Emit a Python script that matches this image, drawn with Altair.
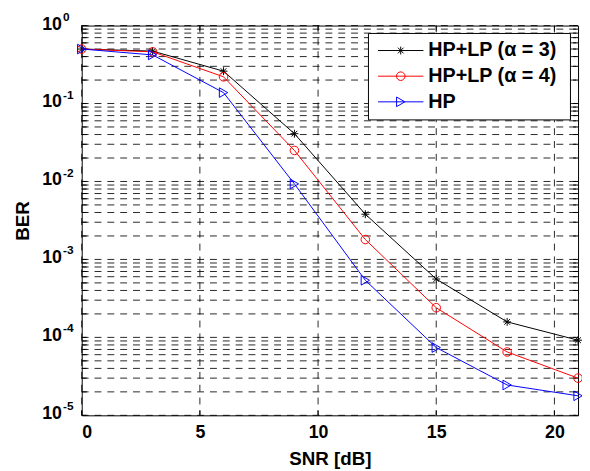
import altair as alt
import pandas as pd

# ---- data ----
snr = [0, 3, 6, 9, 12, 15, 18, 21]
ber_a3 = [0.50, 0.47, 0.26, 0.041, 0.0038, 0.00056, 0.000158, 0.000092]
ber_a4 = [0.50, 0.46, 0.22, 0.025, 0.0018, 0.00024, 0.000065, 0.000030]
ber_hp = [0.50, 0.42, 0.138, 0.0093, 0.00054, 0.000074, 0.0000245, 0.0000178]

series_names = ["HP+LP (\u03b1 = 3)", "HP+LP (\u03b1 = 4)", "HP"]
series_colors = ["#000000", "#ff0000", "#0000ff"]
series_values = [ber_a3, ber_a4, ber_hp]

x_ticks = [0, 5, 10, 15, 20]
decade_exps = [0, -1, -2, -3, -4, -5]
minor_mult = [2, 3, 4, 5, 6, 7, 8, 9]

W, H = 503, 395
FONT = "Liberation Sans"

asterisk = "M-1,0L1,0M0,-1L0,1M-0.72,-0.72L0.72,0.72M-0.72,0.72L0.72,-0.72"
shapes = [asterisk, "circle", "triangle-right"]
sizes = [64, 75, 95]

xs = alt.Scale(domain=[0, 21], nice=False, zero=False)
ys = alt.Scale(type="log", domain=[1e-5, 1], nice=False)

x_axis = alt.Axis(values=x_ticks, grid=False, ticks=False, domain=False,
                  labelFontSize=18, labelFontWeight="bold", labelColor="black",
                  labelFont=FONT, labelPadding=8, title="SNR [dB]",
                  titleFontSize=19, titleFontWeight="bold", titleColor="black",
                  titleFont=FONT, titlePadding=9)
y_axis = alt.Axis(labels=False, grid=False, ticks=False, domain=False,
                  title="BER", titleFontSize=19, titleFontWeight="bold",
                  titleColor="black", titleFont=FONT, titlePadding=50)

# grid values
major_y = [10.0 ** e for e in decade_exps]
minor_y = [m * 10.0 ** e for e in decade_exps[1:] for m in minor_mult]
ygrid_df = pd.DataFrame({"y": major_y + minor_y,
                         "kind": ["major"] * len(major_y) + ["minor"] * len(minor_y)})
xgrid_df = pd.DataFrame({"x": x_ticks})

dash = [7, 6]

ygrid = alt.Chart(ygrid_df).mark_rule(color="black", strokeWidth=1, strokeDash=dash, opacity=0.85).encode(
    y=alt.Y("y:Q", scale=ys, axis=y_axis), x=alt.value(0), x2=alt.value(W))
xgrid = alt.Chart(xgrid_df).mark_rule(color="black", strokeWidth=1, strokeDash=dash, opacity=0.85).encode(
    x=alt.X("x:Q", scale=xs, axis=x_axis), y=alt.value(0), y2=alt.value(H))

# inward ticks
ytick_l = alt.Chart(ygrid_df).mark_rule(color="black", strokeWidth=1).encode(
    y="y:Q", x=alt.value(0), x2=alt.value(5))
ytick_r = alt.Chart(ygrid_df).mark_rule(color="black", strokeWidth=1).encode(
    y="y:Q", x=alt.value(W - 5), x2=alt.value(W))
xtick_b = alt.Chart(xgrid_df).mark_rule(color="black", strokeWidth=1).encode(
    x="x:Q", y=alt.value(H - 5), y2=alt.value(H))
xtick_t = alt.Chart(xgrid_df).mark_rule(color="black", strokeWidth=1).encode(
    x="x:Q", y=alt.value(0), y2=alt.value(5))

# y tick labels as 10 with superscript exponent
ylab_df = pd.DataFrame({"y": major_y, "base": ["10"] * len(major_y),
                        "exp": [str(e) for e in decade_exps]})
ylab_base = alt.Chart(ylab_df).mark_text(align="right", baseline="middle", fontSize=18,
                                         fontWeight="bold", font=FONT, color="black", dy=-1).encode(
    y="y:Q", x=alt.value(-20), text="base:N")
ylab_exp = alt.Chart(ylab_df).mark_text(align="left", baseline="middle", fontSize=12,
                                        fontWeight="bold", font=FONT, color="black", dy=-9).encode(
    y="y:Q", x=alt.value(-19), text="exp:N")

layers = [ygrid, xgrid, ytick_l, ytick_r, xtick_b, xtick_t, ylab_base, ylab_exp]

for name, col, vals, shp, sz in zip(series_names, series_colors, series_values, shapes, sizes):
    df = pd.DataFrame({"snr": snr, "ber": vals, "series": name})
    layers.append(alt.Chart(df).mark_line(color=col, strokeWidth=1).encode(x="snr:Q", y="ber:Q"))
    layers.append(alt.Chart(df).mark_point(shape=shp, size=sz, filled=False, color=col,
                                           strokeWidth=1, opacity=1).encode(x="snr:Q", y="ber:Q"))

# legend (drawn manually, MATLAB style)
box_df = pd.DataFrame({"k": [0]})
layers.append(alt.Chart(box_df).mark_rect(fill="white", stroke="black", strokeWidth=1).encode(
    x=alt.value(290.6), x2=alt.value(495.3), y=alt.value(8), y2=alt.value(95.6)))
row_y = [25.3, 51.3, 77.3]
for name, col, shp, sz, ry in zip(series_names, series_colors, shapes, sizes, row_y):
    ldf = pd.DataFrame({"label": [name]})
    layers.append(alt.Chart(ldf).mark_rule(color=col, strokeWidth=1).encode(
        x=alt.value(300.3), x2=alt.value(346.3), y=alt.value(ry)))
    layers.append(alt.Chart(ldf).mark_point(shape=shp, size=sz, filled=False, color=col,
                                            strokeWidth=1, opacity=1).encode(
        x=alt.value(323.3), y=alt.value(ry)))
    layers.append(alt.Chart(ldf).mark_text(align="left", baseline="middle", fontSize=20,
                                           fontWeight="bold", font=FONT, color="black").encode(
        x=alt.value(351.3), y=alt.value(ry), text="label:N"))

chart = alt.layer(*layers).properties(
    width=W, height=H,
    autosize=alt.AutoSizeParams(type="none"),
    padding={"left": 74.7, "top": 14.7, "right": 4, "bottom": 53},
    background="white",
).configure_view(stroke="black", strokeWidth=1)

chart.save("out.html", embed_options={"renderer": "svg", "actions": False})
